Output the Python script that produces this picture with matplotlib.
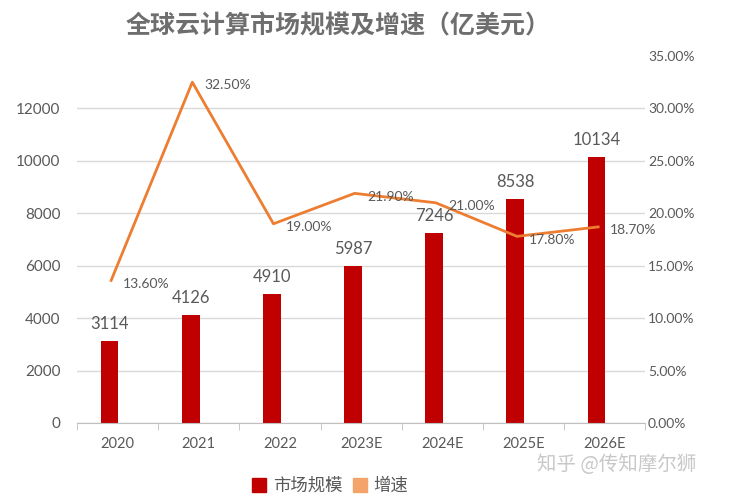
import matplotlib.pyplot as plt
from matplotlib.patches import Patch
import numpy as np

plt.rcParams['font.family'] = ['Lato', 'Noto Sans CJK SC', 'DejaVu Sans']

years = ['2020', '2021', '2022', '2023E', '2024E', '2025E', '2026E']
market = [3114, 4126, 4910, 5987, 7246, 8538, 10134]
growth = [13.6, 32.5, 19.0, 21.9, 21.0, 17.8, 18.7]

gray = '#595959'
red = '#C00000'
orange = '#ED7D31'

fig = plt.figure(figsize=(7.34, 5.0), dpi=100)
ax = fig.add_axes([0.105, 0.154, 0.774, 0.734])
ax2 = ax.twinx()

x = np.arange(len(years))
bars = ax.bar(x - 0.1, market, width=0.22, color=red, zorder=2)
for xi, v in zip(x, market):
    ax.text(xi - 0.1, v + 350, str(v), ha='center', va='bottom',
            fontsize=12, color=gray)

ax2.plot(x - 0.08, growth, color=orange, lw=2.0, zorder=3)
for xi, g in zip(x, growth):
    ax2.text(xi + 0.07, g - 0.3, f'{g:.2f}%', ha='left', va='center',
             fontsize=10, color=gray)

ax.set_xlim(-0.5, len(years) - 0.5)
ax.set_ylim(0, 14000)
ax.set_yticks(range(0, 12001, 2000))
ax2.set_ylim(0, 35)
ax2.set_yticks(range(0, 36, 5))
ax2.set_yticklabels([f'{t:.2f}%' for t in range(0, 36, 5)])

ax.set_xticks(x)
ax.set_xticklabels(years)
ax.set_xticks(np.arange(-0.5, len(years), 1), minor=True)
ax.tick_params(axis='x', which='major', length=0, pad=10, labelsize=10.5, labelcolor=gray)
ax.tick_params(axis='x', which='minor', length=5, color='#BFBFBF')
ax.tick_params(axis='y', length=0, pad=12, labelsize=11, labelcolor=gray)
ax2.tick_params(axis='y', length=0, pad=2, labelsize=10, labelcolor=gray)

ax.grid(axis='y', color='#D9D9D9', lw=1, zorder=0)
ax.set_axisbelow(True)
for a in (ax, ax2):
    for s in ('top', 'left', 'right'):
        a.spines[s].set_visible(False)
ax.spines['bottom'].set_color('#BFBFBF')
ax2.spines['bottom'].set_visible(False)

fig.text(0.46, 0.948, '全球云计算市场规模及增速（亿美元）', ha='center', va='center',
         fontsize=18, fontweight='bold', color='#6E6E6E', family=['Noto Sans CJK SC'])

handles = [Patch(color=red), Patch(color='#F4A46A')]
fig.legend(handles, ['市场规模', '增速'], loc='center', bbox_to_anchor=(0.45, 0.028),
           ncol=2, frameon=False, handlelength=0.8, handleheight=0.8,
           handletextpad=0.4, columnspacing=0.6,
           prop={'family': ['Noto Sans CJK SC'], 'size': 12.5}, labelcolor=gray)

fig.text(0.84, 0.07, '知乎 @传知摩尔狮', ha='center', va='center', fontsize=14,
         color='#C8C8C8', family=['Noto Sans CJK SC'])

fig.savefig('out.png', dpi=100)
